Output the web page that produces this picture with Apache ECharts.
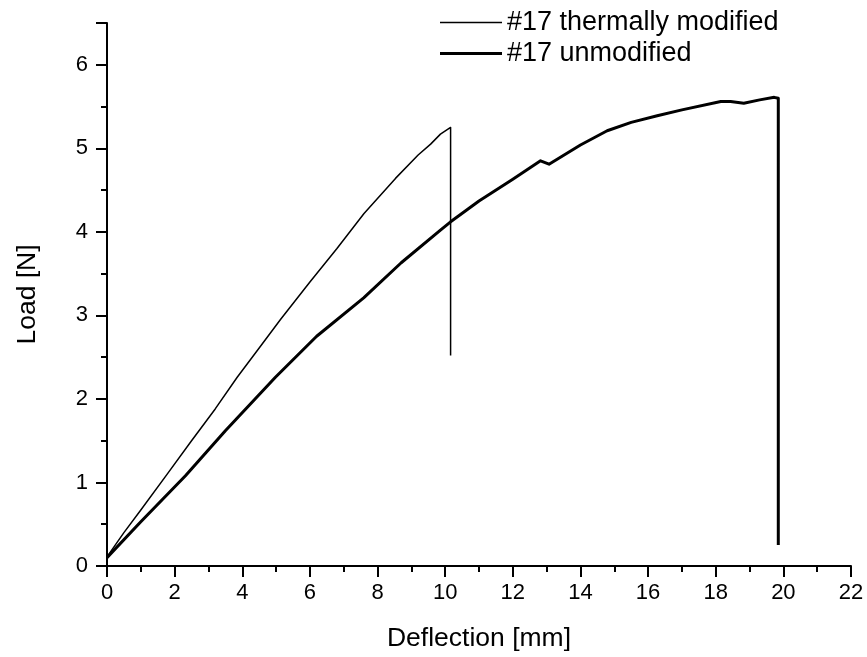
<!DOCTYPE html>
<html>
<head>
<meta charset="utf-8">
<script src="https://cdn.jsdelivr.net/npm/echarts@6/dist/echarts.min.js"></script>
<style>html,body{margin:0;padding:0;background:#fff;}#c{width:867px;height:657px;}</style>
</head>
<body>
<div id="c"></div>
<script>
// Series names
var seriesNames = ['#17 thermally modified', '#17 unmodified'];
// Thermally modified: deflection [mm] and load [N]
var thermDefl = [0, 0.5, 1.0, 1.78, 2.5, 3.2, 3.85, 4.5, 5.13, 6.0, 6.8, 7.6, 8.53, 9.2, 9.57, 9.62, 9.86, 10.16, 10.16];
var thermLoad = [0.11, 0.40, 0.67, 1.10, 1.50, 1.88, 2.26, 2.61, 2.95, 3.40, 3.80, 4.22, 4.64, 4.92, 5.05, 5.06, 5.17, 5.25, 2.52];
// Unmodified: deflection [mm] and load [N]
var unmodDefl = [0, 1.0, 2.32, 3.5, 4.98, 6.2, 7.59, 8.7, 9.86, 10.16, 11.0, 12.0, 12.82, 13.07, 14.0, 14.79, 15.5, 16.27, 17.0, 18.15, 18.44, 18.83, 19.3, 19.73, 19.85, 19.85];
var unmodLoad = [0.10, 0.53, 1.08, 1.62, 2.26, 2.75, 3.21, 3.63, 4.02, 4.12, 4.37, 4.63, 4.85, 4.81, 5.04, 5.21, 5.31, 5.39, 5.46, 5.56, 5.56, 5.54, 5.58, 5.61, 5.60, 0.25];
// Axis ticks
var xMin = 0, xMax = 22, xStep = 2;
var yMin = 0, yMax = 6.5, yStep = 1;

function pairs(xs, ys) { return xs.map(function (x, i) { return [x, ys[i]]; }); }

var font = 'Liberation Sans, Arial, sans-serif';
var chart = echarts.init(document.getElementById('c'), null, {renderer: 'canvas'});
var axisCommon = {
  axisLine: {show: true, onZero: false, lineStyle: {color: '#000', width: 2}},
  axisTick: {show: true, inside: false, length: 11, lineStyle: {color: '#000', width: 2}},
  minorTick: {show: true, splitNumber: 2, length: 6, lineStyle: {color: '#000', width: 2}},
  splitLine: {show: false},
  minorSplitLine: {show: false},
  axisLabel: {color: '#000', fontFamily: font, fontSize: 22, margin: 16},
  nameTextStyle: {color: '#000', fontFamily: font, fontSize: 26.5}
};
var legendCommon = {
  orient: 'vertical', left: 440, padding: 0, itemWidth: 62, icon: 'rect', itemGap: 0,
  textStyle: {color: '#000', fontFamily: font, fontSize: 27}
};
chart.setOption({
  animation: false,
  backgroundColor: '#fff',
  grid: {left: 107, right: 16, top: 23, bottom: 86, containLabel: false},
  legend: [
    Object.assign({}, legendCommon, {top: 9, itemHeight: 1.5, data: [seriesNames[0]]}),
    Object.assign({}, legendCommon, {top: 40, itemHeight: 3, data: [seriesNames[1]]})
  ],
  xAxis: Object.assign({}, axisCommon, {
    type: 'value', min: xMin, max: xMax, interval: xStep,
    name: 'Deflection [mm]', nameLocation: 'middle', nameGap: 59
  }),
  yAxis: Object.assign({}, axisCommon, {
    type: 'value', min: yMin, max: yMax, interval: yStep,
    name: 'Load [N]', nameLocation: 'middle', nameGap: 66, nameRotate: 90,
    axisLabel: Object.assign({}, axisCommon.axisLabel, {margin: 19, showMaxLabel: false})
  }),
  series: [
    {name: seriesNames[0], type: 'line', data: pairs(thermDefl, thermLoad), symbol: 'none', smooth: false,
     lineStyle: {color: '#000', width: 1.5, join: 'round'}, itemStyle: {color: '#000'}},
    {name: seriesNames[1], type: 'line', data: pairs(unmodDefl, unmodLoad), symbol: 'none', smooth: false,
     lineStyle: {color: '#000', width: 3, join: 'round'}, itemStyle: {color: '#000'}}
  ]
});
</script>
</body>
</html>
